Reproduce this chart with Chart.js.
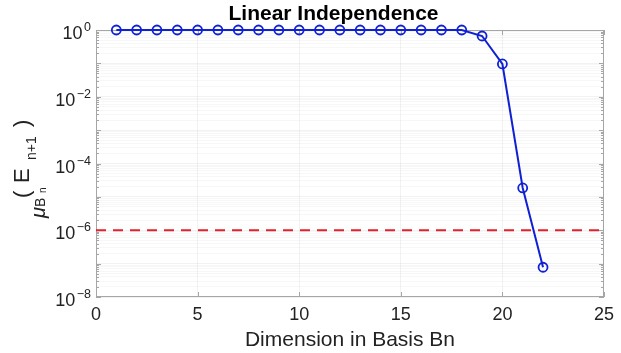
<!DOCTYPE html>
<html>
<head>
<meta charset="utf-8">
<script src="https://cdn.jsdelivr.net/npm/chart.js@4/dist/chart.umd.min.js"></script>
<style>
  body { margin: 0; background: #fff; }
  #wrap { width: 621px; height: 353px; }
</style>
</head>
<body>
<div id="wrap"><canvas id="chart-area" width="621" height="353"></canvas></div>
<script>
// values
var dims = [1, 2, 3, 4, 5, 6, 7, 8, 9, 10, 11, 12, 13, 14, 15, 16, 17, 18, 19, 20, 21, 22];
var muValues = [1, 1, 1, 1, 1, 1, 1, 1, 1, 1, 1, 1, 1, 1, 1, 1, 1, 1, 0.66, 0.096, 1.85e-5, 7.8e-8];
var thresholdX = [0, 25];
var thresholdY = [1e-6, 1e-6];
var xTicks = [0, 5, 10, 15, 20, 25];
var yExponents = [0, -2, -4, -6, -8];

var FONT = "'Liberation Sans', Arial, Helvetica, sans-serif";
var TEXT = '#222';
var AXIS = '#a6a6a6';

function isDecade(v) {
    var l = Math.log10(v);
    return Math.abs(l - Math.round(l)) < 1e-9;
}

// frame, inward ticks, y labels (10 with superscript), y title, title
var matlabAxes = {
    id: 'matlabAxes',
    beforeDatasetsDraw: function (chart) {
        var ctx = chart.ctx, a = chart.chartArea;
        var xs = chart.scales.x, ys = chart.scales.y;
        ctx.save();
        ctx.strokeStyle = AXIS;
        ctx.lineWidth = 1;
        ctx.strokeRect(a.left + 0.5, a.top + 0.5, a.right - a.left - 1, a.bottom - a.top - 1);
        ctx.beginPath();
        xTicks.forEach(function (t) {
            var px = Math.round(xs.getPixelForValue(t)) + 0.5;
            ctx.moveTo(px, a.bottom); ctx.lineTo(px, a.bottom - 5);
            ctx.moveTo(px, a.top); ctx.lineTo(px, a.top + 5);
        });
        ys.ticks.forEach(function (t) {
            var py = Math.round(ys.getPixelForValue(t.value)) + 0.5;
            var len = isDecade(t.value) ? 5 : 3;
            ctx.moveTo(a.left, py); ctx.lineTo(a.left + len, py);
            ctx.moveTo(a.right, py); ctx.lineTo(a.right - len, py);
        });
        ctx.stroke();
        ctx.restore();
    },
    afterDraw: function (chart) {
        var ctx = chart.ctx;
        var ys = chart.scales.y;
        ctx.save();
        ctx.fillStyle = TEXT;
        ctx.textBaseline = 'alphabetic';

        // y tick labels
        yExponents.forEach(function (e) {
            var py = ys.getPixelForValue(Math.pow(10, e));
            var ex = e < 0 ? '\u2212' + (-e) : String(e);
            ctx.font = '12.5px ' + FONT;
            ctx.textAlign = 'right';
            var w = ctx.measureText(ex).width;
            ctx.fillText(ex, 91, py + 1);
            ctx.font = '18px ' + FONT;
            ctx.fillText('10', 91 - w - 1.5, py + 9);
        });

        // y axis title: mu_{B_n}(E_{n+1})
        var pieces = [
            { t: '\u03bc', f: 'italic 20px ', x: 45, y: 218 },
            { t: 'B', f: '14px ', x: 45, y: 207 },
            { t: 'n', f: '10px ', x: 46, y: 193 },
            { t: '(', f: '22px ', x: 29, y: 198 },
            { t: 'E', f: '22px ', x: 29, y: 183 },
            { t: 'n+1', f: '14px ', x: 36, y: 160 },
            { t: ')', f: '22px ', x: 29, y: 127 }
        ];
        ctx.textAlign = 'left';
        pieces.forEach(function (p) {
            ctx.save();
            ctx.translate(p.x, p.y);
            ctx.rotate(-Math.PI / 2);
            ctx.font = p.f + FONT;
            ctx.fillText(p.t, 0, 0);
            ctx.restore();
        });

        // title
        ctx.font = 'bold 21px ' + FONT;
        ctx.textAlign = 'center';
        ctx.fillStyle = '#000';
        ctx.fillText('Linear Independence', 333.5, 20);
        ctx.restore();
    }
};

var config = {
    type: 'line',
    data: {
        datasets: [{
            label: 'mu',
            data: dims.map(function (d, i) { return { x: d, y: muValues[i] }; }),
            borderColor: '#1020d4',
            borderWidth: 2,
            pointRadius: 4.5,
            pointBorderWidth: 1.8,
            pointBorderColor: '#1020d4',
            pointBackgroundColor: 'rgba(0,0,0,0)',
            clip: false,
            order: 1
        }, {
            label: 'threshold',
            data: thresholdX.map(function (x, i) { return { x: x, y: thresholdY[i] }; }),
            borderColor: '#e3202b',
            borderWidth: 2,
            borderDash: [10, 7],
            pointRadius: 0,
            clip: false,
            order: 2
        }]
    },
    options: {
        responsive: false,
        animation: false,
        layout: { padding: { top: 30, right: 11, left: 0, bottom: 0 } },
        plugins: {
            legend: { display: false },
            tooltip: { enabled: false },
            title: { display: false }
        },
        scales: {
            x: {
                type: 'linear',
                min: 0,
                max: 25,
                afterBuildTicks: function (scale) {
                    scale.ticks = xTicks.map(function (v) { return { value: v }; });
                },
                afterFit: function (scale) { scale.height = 56; },
                ticks: {
                    padding: 7,
                    color: TEXT,
                    font: { size: 18, family: FONT },
                    maxRotation: 0
                },
                grid: {
                    color: 'rgba(0,0,0,0.05)',
                    drawTicks: false
                },
                border: { display: false },
                title: {
                    display: true,
                    text: 'Dimension in Basis Bn',
                    color: TEXT,
                    font: { size: 21, family: FONT },
                    padding: { top: 0, bottom: 0 }
                }
            },
            y: {
                type: 'logarithmic',
                min: 1e-8,
                max: 1,
                afterBuildTicks: function (scale) {
                    var t = [];
                    for (var k = -8; k < 0; k++) {
                        for (var m = 1; m <= 9; m++) {
                            t.push({ value: m * Math.pow(10, k) });
                        }
                    }
                    t.push({ value: 1 });
                    scale.ticks = t;
                },
                afterFit: function (scale) { scale.width = 96; },
                ticks: { display: false },
                grid: {
                    drawTicks: false,
                    color: function (c) {
                        if (!c.tick) return 'rgba(0,0,0,0)';
                        return isDecade(c.tick.value) ? 'rgba(0,0,0,0.05)' : 'rgba(0,0,0,0.03)';
                    }
                },
                border: { display: false }
            }
        }
    },
    plugins: [matlabAxes]
};

var ctx = document.getElementById('chart-area').getContext('2d');
window.myChart = new Chart(ctx, config);
</script>
</body>
</html>
